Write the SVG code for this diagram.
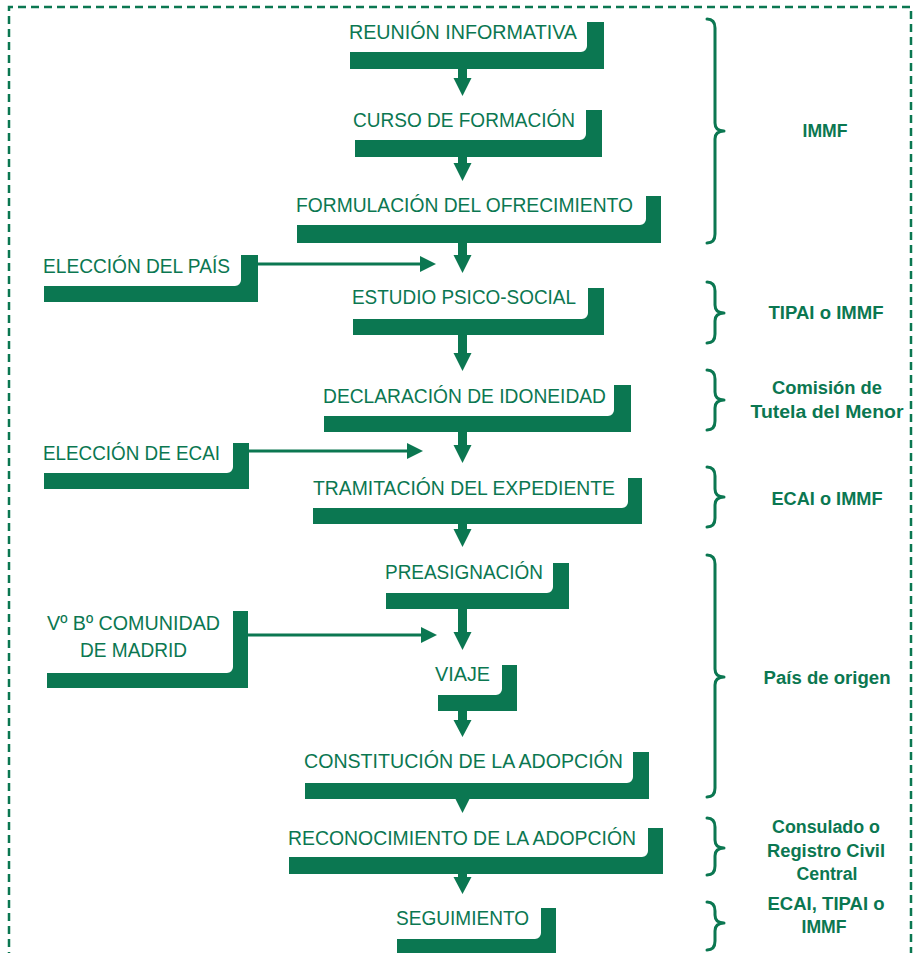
<svg xmlns="http://www.w3.org/2000/svg" width="913" height="953" viewBox="0 0 913 953">
<defs>
<style>
.n{fill:#0b7751}
.t{fill:#0b7751;font-family:"Liberation Sans",Arial,sans-serif;font-size:20px}
.l{fill:#0b7751;font-family:"Liberation Sans",Arial,sans-serif;font-size:17.5px;font-weight:bold;text-anchor:middle}
.b{fill:none;stroke:#0b7751;stroke-width:3;stroke-linecap:round;stroke-linejoin:round}
.va{fill:#0b7751}
.ha{fill:none;stroke:#0b7751;stroke-width:3}
.frame{fill:none;stroke:#0b7751;stroke-width:2.5;stroke-dasharray:8 5}
</style>
<marker id="ah" markerUnits="userSpaceOnUse" markerWidth="16" markerHeight="16" refX="8" refY="8" orient="auto">
<path d="M0,0 L16,8 L0,16 Z" fill="#0b7751"/>
</marker>
</defs>
<rect width="913" height="953" fill="#ffffff"/>
<path class="frame" d="M9 960 V7 H911 V960"/>

<g id="connectors">
<path class="va" d="M458 69 H467 V78 H471.5 L462.5 96 L453.5 78 H458 Z"/>
<path class="va" d="M458 157 H467 V163 H471.5 L462.5 181 L453.5 163 H458 Z"/>
<path class="va" d="M458 243 H467 V255 H471.5 L462.5 273 L453.5 255 H458 Z"/>
<path class="va" d="M458 335 H467 V353 H471.5 L462.5 371 L453.5 353 H458 Z"/>
<path class="va" d="M458 432 H467 V445 H471.5 L462.5 463 L453.5 445 H458 Z"/>
<path class="va" d="M458 524 H467 V529 H471.5 L462.5 547 L453.5 529 H458 Z"/>
<path class="va" d="M458 609 H467 V632 H471.5 L462.5 650 L453.5 632 H458 Z"/>
<path class="va" d="M458 711 H467 V720 H471.5 L462.5 737 L453.5 720 H458 Z"/>
<path class="va" d="M453.5 795 H471.5 L462.5 813 Z"/>
<path class="va" d="M458 874 H467 V877 H471.5 L462.5 894 L453.5 877 H458 Z"/>
<line class="ha" x1="258" y1="264" x2="428" y2="264" marker-end="url(#ah)"/>
<line class="ha" x1="249" y1="451" x2="415" y2="451" marker-end="url(#ah)"/>
<line class="ha" x1="248" y1="635" x2="429" y2="635" marker-end="url(#ah)"/>
</g>

<g id="reunion"><path class="n" d="M350 52 H581 A6 6 0 0 0 587 46 V22 H604 V69 H350 Z"/><text class="t" x="349" y="39" textLength="228" lengthAdjust="spacingAndGlyphs">REUNIÓN INFORMATIVA</text></g>
<g id="curso"><path class="n" d="M355 140 H580 A6 6 0 0 0 586 134 V110 H602 V157 H355 Z"/><text class="t" x="353" y="127" textLength="222" lengthAdjust="spacingAndGlyphs">CURSO DE FORMACIÓN</text></g>
<g id="formulacion"><path class="n" d="M297 225 H640 A6 6 0 0 0 646 219 V196 H661 V243 H297 Z"/><text class="t" x="296" y="212" textLength="337" lengthAdjust="spacingAndGlyphs">FORMULACIÓN DEL OFRECIMIENTO</text></g>
<g id="estudio"><path class="n" d="M353 319 H582 A6 6 0 0 0 588 313 V288 H604 V335 H353 Z"/><text class="t" x="352" y="304" textLength="224" lengthAdjust="spacingAndGlyphs">ESTUDIO PSICO-SOCIAL</text></g>
<g id="declaracion"><path class="n" d="M324 416 H608 A6 6 0 0 0 614 410 V385 H631 V432 H324 Z"/><text class="t" x="323" y="403" textLength="283" lengthAdjust="spacingAndGlyphs">DECLARACIÓN DE IDONEIDAD</text></g>
<g id="tramitacion"><path class="n" d="M313 508 H622 A6 6 0 0 0 628 502 V478 H642 V524 H313 Z"/><text class="t" x="313" y="495" textLength="302" lengthAdjust="spacingAndGlyphs">TRAMITACIÓN DEL EXPEDIENTE</text></g>
<g id="preasignacion"><path class="n" d="M386 593 H547 A6 6 0 0 0 553 587 V563 H569 V609 H386 Z"/><text class="t" x="385" y="579" textLength="158" lengthAdjust="spacingAndGlyphs">PREASIGNACIÓN</text></g>
<g id="viaje"><path class="n" d="M438 695 H496 A6 6 0 0 0 502 689 V665 H517 V711 H438 Z"/><text class="t" x="435" y="681" textLength="55" lengthAdjust="spacingAndGlyphs">VIAJE</text></g>
<g id="constitucion"><path class="n" d="M305 783 H627 A6 6 0 0 0 633 777 V752 H649 V799 H305 Z"/><text class="t" x="304" y="768" textLength="319" lengthAdjust="spacingAndGlyphs">CONSTITUCIÓN DE LA ADOPCIÓN</text></g>
<g id="reconocimiento"><path class="n" d="M289 857 H642 A6 6 0 0 0 648 851 V828 H663 V874 H289 Z"/><text class="t" x="288" y="845" textLength="348" lengthAdjust="spacingAndGlyphs">RECONOCIMIENTO DE LA ADOPCIÓN</text></g>
<g id="seguimiento"><path class="n" d="M397 939 H535 A6 6 0 0 0 541 933 V908 H556 V955 H397 Z"/><text class="t" x="396" y="925" textLength="133" lengthAdjust="spacingAndGlyphs">SEGUIMIENTO</text></g>
<g id="eleccion-pais"><path class="n" d="M44 286 H235 A6 6 0 0 0 241 280 V255 H258 V302 H44 Z"/><text class="t" x="43" y="273" textLength="187" lengthAdjust="spacingAndGlyphs">ELECCIÓN DEL PAÍS</text></g>
<g id="eleccion-ecai"><path class="n" d="M44 473 H227 A6 6 0 0 0 233 467 V443 H249 V489 H44 Z"/><text class="t" x="43" y="460" textLength="177" lengthAdjust="spacingAndGlyphs">ELECCIÓN DE ECAI</text></g>
<g id="vobo"><path class="n" d="M47 673 H227 A6 6 0 0 0 233 667 V611 H248 V688 H47 Z"/><text class="t" x="47" y="630" textLength="173" lengthAdjust="spacingAndGlyphs">Vº Bº COMUNIDAD</text><text class="t" x="80" y="657" textLength="107" lengthAdjust="spacingAndGlyphs">DE MADRID</text></g>

<g id="brace-immf"><path class="b" d="M707 19 Q715 19 715 28 V123 Q715 131 724 131 Q715 131 715 139 V234 Q715 243 707 243"/><text class="l" x="825" y="137" textLength="45" lengthAdjust="spacingAndGlyphs">IMMF</text></g>
<g id="brace-tipai"><path class="b" d="M707 282 Q715 282 715 291 V305 Q715 313 724 313 Q715 313 715 321 V334 Q715 343 707 343"/><text class="l" x="826" y="319" textLength="115" lengthAdjust="spacingAndGlyphs">TIPAI o IMMF</text></g>
<g id="brace-comision"><path class="b" d="M707 370 Q715 370 715 379 V392 Q715 400 724 400 Q715 400 715 408 V421 Q715 430 707 430"/><text class="l" x="827" y="394" textLength="110" lengthAdjust="spacingAndGlyphs">Comisión de</text><text class="l" x="827" y="418" textLength="153" lengthAdjust="spacingAndGlyphs">Tutela del Menor</text></g>
<g id="brace-ecai"><path class="b" d="M707 467 Q715 467 715 476 V489 Q715 497 724 497 Q715 497 715 505 V518 Q715 527 707 527"/><text class="l" x="827" y="505" textLength="111" lengthAdjust="spacingAndGlyphs">ECAI o IMMF</text></g>
<g id="brace-pais"><path class="b" d="M707 555 Q715 555 715 564 V669 Q715 677 724 677 Q715 677 715 685 V788 Q715 797 707 797"/><text class="l" x="827" y="684" textLength="127" lengthAdjust="spacingAndGlyphs">País de origen</text></g>
<g id="brace-consulado"><path class="b" d="M707 818 Q715 818 715 827 V840 Q715 848 724 848 Q715 848 715 856 V866 Q715 875 707 875"/><text class="l" x="826" y="833" textLength="108" lengthAdjust="spacingAndGlyphs">Consulado o</text><text class="l" x="826" y="857" textLength="118" lengthAdjust="spacingAndGlyphs">Registro Civil</text><text class="l" x="827" y="880" textLength="61" lengthAdjust="spacingAndGlyphs">Central</text></g>
<g id="brace-seguimiento"><path class="b" d="M707 902 Q715 902 715 911 V915 Q715 923 724 923 Q715 923 715 931 V941 Q715 950 707 950"/><text class="l" x="826" y="910" textLength="117" lengthAdjust="spacingAndGlyphs">ECAI, TIPAI o</text><text class="l" x="824" y="933" textLength="45" lengthAdjust="spacingAndGlyphs">IMMF</text></g>
</svg>
